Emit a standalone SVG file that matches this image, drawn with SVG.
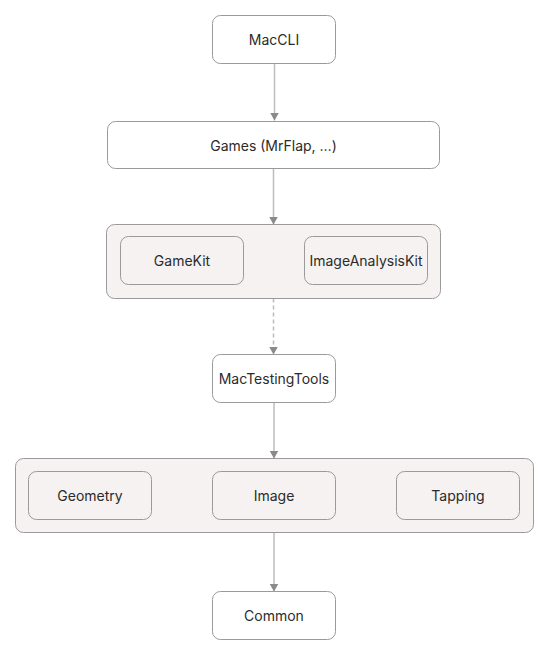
<svg xmlns="http://www.w3.org/2000/svg" width="553" height="658" viewBox="0 0 553 658">
<style>
.n{fill:#ffffff;stroke:#9a9a9a;stroke-width:1}
.g{fill:#f5f2f1;stroke:#9a9a9a;stroke-width:1}
.t{font-family:Inter,"Liberation Sans",sans-serif;font-size:14px;fill:#2b2b2b;text-anchor:middle;dominant-baseline:central}
.e{stroke:#bdbdbd;stroke-width:1.5;fill:none}
.d{stroke-dasharray:4 3}
</style>
<defs>
<marker id="a" viewBox="0 0 10 10" refX="10" refY="5" markerWidth="8" markerHeight="9" markerUnits="userSpaceOnUse" orient="auto" preserveAspectRatio="none">
<path d="M0,0 L10,5 L0,10 z" fill="#8a8a8a"/>
</marker>
</defs>
<rect width="553" height="658" fill="#ffffff"/>
<g id="connectors">
<line class="e" x1="274.5" y1="63.5" x2="274.5" y2="120.5" marker-end="url(#a)"/>
<line class="e" x1="273.5" y1="168.5" x2="273.5" y2="224.5" marker-end="url(#a)"/>
<line class="e d" x1="273.5" y1="298.5" x2="273.5" y2="354.5" marker-end="url(#a)"/>
<line class="e" x1="274" y1="402.5" x2="274" y2="458.5" marker-end="url(#a)"/>
<line class="e" x1="274" y1="532.5" x2="274" y2="591.5" marker-end="url(#a)"/>
</g>
<g id="MacCLI"><rect class="n" x="212.5" y="15.5" width="123" height="48" rx="8"/><text class="t" x="274" y="39.5">MacCLI</text></g>
<g id="Games"><rect class="n" x="107.5" y="121.5" width="332" height="47" rx="8"/><text class="t" x="273.5" y="145">Games (MrFlap, …)</text></g>
<g id="Kits">
<rect class="g" x="106.5" y="224.5" width="334" height="74" rx="8"/>
<g id="GameKit"><rect class="g" x="120.5" y="236.5" width="123" height="48" rx="8"/><text class="t" x="182" y="260.5">GameKit</text></g>
<g id="ImageAnalysisKit"><rect class="g" x="304.5" y="236.5" width="123" height="48" rx="8"/><text class="t" x="366" y="260.5">ImageAnalysisKit</text></g>
</g>
<g id="MacTestingTools"><rect class="n" x="212.5" y="354.5" width="123" height="48" rx="8"/><text class="t" x="274" y="378.5">MacTestingTools</text></g>
<g id="Tools">
<rect class="g" x="15.5" y="458.5" width="518" height="74" rx="8"/>
<g id="Geometry"><rect class="g" x="28.5" y="471.5" width="123" height="48" rx="8"/><text class="t" x="90" y="495.5">Geometry</text></g>
<g id="Image"><rect class="g" x="212.5" y="471.5" width="123" height="48" rx="8"/><text class="t" x="274" y="495.5">Image</text></g>
<g id="Tapping"><rect class="g" x="396.5" y="471.5" width="123" height="48" rx="8"/><text class="t" x="458" y="495.5">Tapping</text></g>
</g>
<g id="Common"><rect class="n" x="212.5" y="591.5" width="123" height="48" rx="8"/><text class="t" x="274" y="615.5">Common</text></g>
</svg>
